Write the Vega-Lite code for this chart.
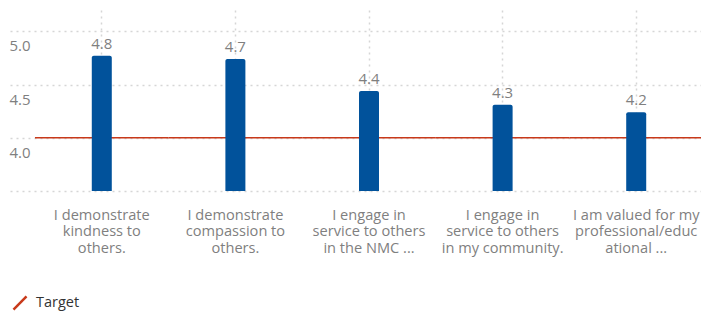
{
  "$schema": "https://vega.github.io/schema/vega-lite/v6.json",
  "width": 718,
  "height": 181,
  "autosize": {"type": "none"},
  "padding": {"left": 10, "top": 10, "right": 0, "bottom": 121},
  "background": "white",
  "config": {"view": {"stroke": null}, "font": "Open Sans"},
  "data": {
    "values": [
      {"label": "I demonstrate|kindness to|others.", "value": 4.77, "target": 4.0},
      {"label": "I demonstrate|compassion to|others.", "value": 4.74, "target": 4.0},
      {"label": "I engage in|service to others|in the NMC ...", "value": 4.44, "target": 4.0},
      {"label": "I engage in|service to others|in my community.", "value": 4.31, "target": 4.0},
      {"label": "I am valued for my|professional/educ|ational ...", "value": 4.24, "target": 4.0}
    ]
  },
  "encoding": {
    "x": {
      "field": "label",
      "type": "nominal",
      "sort": null,
      "scale": {"paddingInner": 0, "paddingOuter": 0.187},
      "axis": {
        "title": null,
        "labelAngle": 0,
        "labelExpr": "split(datum.label, '|')",
        "labelFontSize": 14.6,
        "labelColor": "#7f7f7f",
        "labelLineHeight": 16.5,
        "labelBaseline": "top",
        "labelPadding": 16,
        "labelLimit": 300,
        "labelOverlap": false,
        "ticks": false,
        "domain": false,
        "grid": true,
        "gridColor": "#d6d6d6",
        "gridDash": [2, 4],
        "gridWidth": 1.5,
        "bandPosition": 0.5
      }
    }
  },
  "layer": [
    {
      "mark": {"type": "bar", "width": {"band": 1}, "fillOpacity": 0, "strokeWidth": 1.5},
      "encoding": {
        "y": {
          "field": "target",
          "type": "quantitative",
          "scale": {"domain": [3.5, 5.2], "nice": false, "zero": false},
          "axis": {
            "title": null,
            "values": [3.5, 4.0, 4.5, 5.0],
            "labelExpr": "datum.value < 3.75 ? '' : format(datum.value, '.1f')",
            "labelAlign": "left",
            "labelPadding": 1,
            "labelBaseline": "middle",
            "labelOffset": 14.5,
            "labelFontSize": 15,
            "labelColor": "#7f7f7f",
            "ticks": false,
            "domain": false,
            "grid": true,
            "gridColor": "#d6d6d6",
            "gridDash": [2, 4],
            "gridWidth": 1.5
          }
        },
        "y2": {"field": "target"},
        "stroke": {
          "datum": "Target",
          "type": "nominal",
          "scale": {"range": ["#c8391a"]},
          "legend": {
            "title": null,
            "orient": "none",
            "legendX": 2,
            "legendY": 285,
            "symbolType": "M-1,1L1,-1",
            "symbolSize": 170,
            "symbolStrokeWidth": 2.5,
            "symbolStrokeColor": "#c8391a",
            "symbolFillColor": "transparent",
            "symbolOpacity": 1,
            "labelFontSize": 14.5,
            "labelColor": "#333333",
            "labelOffset": 8
          }
        }
      }
    },
    {
      "mark": {"type": "bar", "width": 20, "color": "#01529b", "cornerRadiusTopLeft": 2, "cornerRadiusTopRight": 2},
      "encoding": {
        "y": {"field": "value", "type": "quantitative"},
        "y2": {"datum": 3.5}
      }
    },
    {
      "mark": {"type": "text", "dy": -7, "baseline": "alphabetic", "fontSize": 15, "color": "#7f7f7f"},
      "encoding": {
        "y": {"field": "value", "type": "quantitative"},
        "text": {"field": "value", "type": "quantitative", "format": ".1f"}
      }
    }
  ]
}
